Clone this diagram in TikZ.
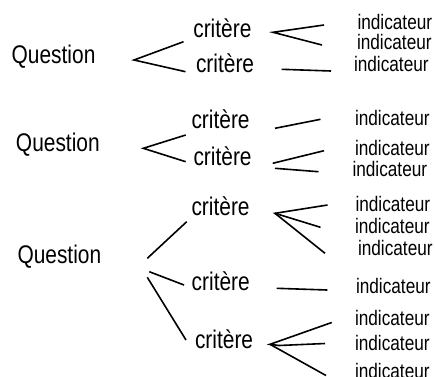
\documentclass[tikz,border=0pt]{standalone}
\usepackage{fontspec}
\setmainfont{Liberation Sans}[FakeStretch=0.82]
\begin{document}
\begin{tikzpicture}[x=1pt,y=-1pt,
  txt/.style={anchor=base west,inner sep=0pt,outer sep=0pt},
  qtext/.style={txt,font=\fontsize{25.5}{30}\selectfont},
  ctext/.style={txt,font=\fontsize{25.5}{30}\selectfont},
  itext/.style={txt,font=\fontsize{21}{25}\selectfont},
  link/.style={draw=black,line width=1.6pt}]
\useasboundingbox (0,0) rectangle (435,376);

% ---- first question ----
\node[qtext] (q1) at (11.7,63.5) {Question};
\node[ctext] (c1a) at (193.3,37.3) {critère};
\node[ctext] (c1b) at (196,72.5) {critère};
\node[itext] (i1a) at (357.5,29) {indicateur};
\node[itext] (i1b) at (357,49.5) {indicateur};
\node[itext] (i1c) at (354,71.5) {indicateur};

\coordinate (q1r) at (134,60);
\coordinate (c1aL) at (183.5,41.7);
\coordinate (c1bL) at (185.5,71.7);
\coordinate (c1aR) at (273,32.3);
\coordinate (i1aL) at (324,25);
\coordinate (i1bL) at (322,45);
\coordinate (c1bR) at (281.7,69.3);
\coordinate (i1cL) at (331,71);

\draw[link] (c1aL) -- (q1r) -- (c1bL);
\draw[link] (i1aL) -- (c1aR) -- (i1bL);
\draw[link] (c1bR) -- (i1cL);

% ---- second question ----
\node[qtext] (q2) at (16,151.5) {Question};
\node[ctext] (c2a) at (191.5,128.5) {critère};
\node[ctext] (c2b) at (193.5,165) {critère};
\node[itext] (i2a) at (355,125) {indicateur};
\node[itext] (i2b) at (355,155) {indicateur};
\node[itext] (i2c) at (352.5,176.5) {indicateur};

\coordinate (q2r) at (143.3,148.3);
\coordinate (c2aL) at (185.7,135);
\coordinate (c2bL) at (185.7,161.7);
\coordinate (c2aR) at (275,128.3);
\coordinate (i2aL) at (320.5,119.3);
\coordinate (c2bR) at (272.7,163.3);
\coordinate (c2bR2) at (275,168.3);
\coordinate (i2bL) at (324,150.7);
\coordinate (i2cL) at (318.5,171.7);

\draw[link] (c2aL) -- (q2r) -- (c2bL);
\draw[link] (c2aR) -- (i2aL);
\draw[link] (c2bR) -- (i2bL);
\draw[link] (c2bR2) -- (i2cL);

% ---- third question ----
\node[qtext] (q3) at (17.5,263) {Question};
\node[ctext] (c3a) at (191.5,215) {critère};
\node[ctext] (c3b) at (191.7,290) {critère};
\node[ctext] (c3c) at (195,348.3) {critère};
\node[itext] (i3a) at (355.5,211.7) {indicateur};
\node[itext] (i3b) at (355,233.5) {indicateur};
\node[itext] (i3c) at (358,255) {indicateur};
\node[itext] (i3d) at (356,293) {indicateur};
\node[itext] (i3e) at (355,325.5) {indicateur};
\node[itext] (i3f) at (355,350) {indicateur};
\node[itext] (i3g) at (355,378.5) {indicateur};

\coordinate (q3a) at (147.3,258.3);
\coordinate (q3b) at (149.3,271.7);
\coordinate (q3c) at (147.3,277.3);
\coordinate (c3aL) at (186.7,221.7);
\coordinate (c3bL) at (184,285);
\coordinate (c3cL) at (186,340);
\coordinate (c3aR) at (275,213.3);
\coordinate (c3aR2) at (278,215);
\coordinate (i3aL) at (327.5,205);
\coordinate (i3bL) at (320.5,227.3);
\coordinate (i3cL) at (325,253.3);
\coordinate (c3bR) at (276.7,288.3);
\coordinate (i3dL) at (327.3,290);
\coordinate (c3cR) at (270,344.3);
\coordinate (c3cR2) at (279,345.5);
\coordinate (i3eL) at (331.7,322.5);
\coordinate (i3fL) at (325,343.5);
\coordinate (i3gL) at (326,375.5);

\draw[link] (q3a) -- (c3aL);
\draw[link] (q3b) -- (c3bL);
\draw[link] (q3c) -- (c3cL);
\draw[link] (i3aL) -- (c3aR) -- (c3aR2);
\draw[link] (c3aR) -- (i3bL);
\draw[link] (c3aR) -- (i3cL);
\draw[link] (c3bR) -- (i3dL);
\draw[link] (i3eL) -- (c3cR) -- (c3cR2);
\draw[link] (c3cR2) -- (i3fL);
\draw[link] (c3cR) -- (i3gL);
\end{tikzpicture}
\end{document}
